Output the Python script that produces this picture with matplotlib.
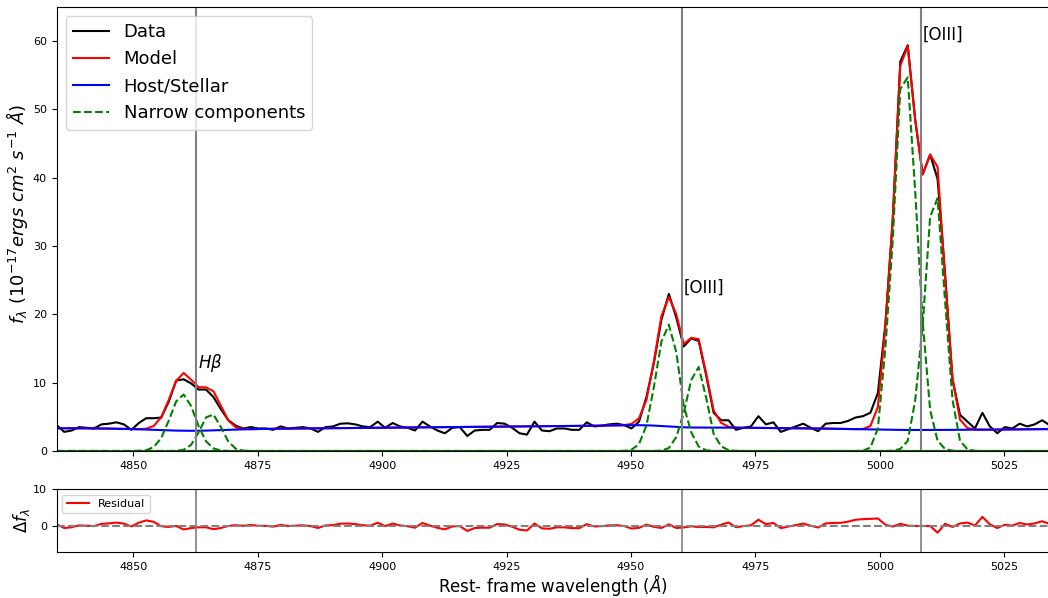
import matplotlib.pyplot as plt
import numpy as np

# rest-frame wavelength grid of the spectrum (Angstrom)
wave_start = 4834.6
wave_step = 1.5

flux = [3.8, 2.8, 3.0, 3.5, 3.4, 3.3, 3.9, 4.0, 4.2, 3.9,
        3.1, 4.1, 4.8, 4.8, 4.9, 7.2, 10.3, 10.5, 9.9, 9.0,
        9.0, 7.9, 6.1, 4.5, 3.7, 3.3, 3.5, 3.3, 3.3, 3.1,
        3.6, 3.3, 3.4, 3.5, 3.3, 2.8, 3.5, 3.6, 4.0, 4.05,
        3.9, 3.6, 3.5, 4.3, 3.4, 4.1, 3.6, 3.4, 3.0, 4.3,
        3.6, 3.0, 2.6, 3.4, 3.5, 2.2, 3.0, 3.1, 3.1, 4.1,
        4.0, 3.4, 2.6, 2.4, 4.3, 3.0, 2.9, 3.3, 3.3, 3.1,
        3.1, 4.2, 3.6, 3.7, 3.9, 4.0, 3.8, 3.3, 4.3, 7.9,
        12.9, 19.2, 23.0, 19.5, 15.3, 16.5, 16.1, 11.1, 5.6, 4.5,
        4.5, 3.1, 3.4, 3.6, 5.1, 3.9, 4.2, 2.8, 3.2, 3.6,
        4.0, 3.4, 2.9, 4.0, 4.1, 4.1, 4.4, 4.9, 5.1, 5.6,
        8.5, 18.5, 34.0, 57.0, 59.4, 48.5, 40.5, 43.4, 39.8, 26.0,
        10.4, 5.3, 4.3, 3.3, 5.6, 3.6, 2.6, 3.5, 3.3, 4.0,
        3.6, 3.9, 4.5, 3.8]

host = [3.33, 3.33, 3.33, 3.32, 3.32, 3.31, 3.30, 3.28, 3.26, 3.24,
        3.21, 3.18, 3.14, 3.10, 3.06, 3.02, 2.99, 2.97, 2.96, 2.97,
        2.99, 3.02, 3.06, 3.10, 3.14, 3.17, 3.20, 3.22, 3.24, 3.26,
        3.27, 3.28, 3.29, 3.30, 3.31, 3.32, 3.33, 3.34, 3.35, 3.36,
        3.37, 3.38, 3.39, 3.40, 3.41, 3.42, 3.43, 3.44, 3.45, 3.46,
        3.47, 3.48, 3.49, 3.50, 3.51, 3.52, 3.53, 3.54, 3.55, 3.56,
        3.57, 3.58, 3.59, 3.60, 3.61, 3.62, 3.63, 3.64, 3.65, 3.66,
        3.67, 3.68, 3.70, 3.72, 3.74, 3.76, 3.77, 3.78, 3.78, 3.76,
        3.72, 3.66, 3.60, 3.53, 3.47, 3.44, 3.43, 3.43, 3.43, 3.43,
        3.42, 3.41, 3.40, 3.40, 3.39, 3.38, 3.37, 3.36, 3.35, 3.34,
        3.33, 3.31, 3.30, 3.28, 3.26, 3.24, 3.22, 3.20, 3.18, 3.16,
        3.14, 3.12, 3.10, 3.09, 3.08, 3.08, 3.08, 3.08, 3.09, 3.09,
        3.10, 3.10, 3.11, 3.12, 3.12, 3.13, 3.14, 3.15, 3.16, 3.17,
        3.18, 3.19, 3.20, 3.21]

# narrow components: first wavelength, then values from there on
hb_blue_start = 4851.1
hb_blue = [0.02, 0.12, 0.57, 1.89, 4.43, 7.25, 8.27, 6.59, 3.66, 1.42, 0.38, 0.07]
hb_red_start = 4858.6
hb_red = [0.02, 0.18, 0.90, 2.71, 4.91, 5.35, 3.49, 1.37, 0.32, 0.05]
o3a_blue_start = 4948.6
o3a_blue = [0.02, 0.19, 1.0, 3.73, 9.4, 16.0, 18.5, 14.45, 6.6, 2.73, 0.65, 0.11, 0.01]
o3a_red_start = 4956.1
o3a_red = [0.06, 0.44, 2.04, 5.6, 10.4, 12.3, 7.8, 2.5, 0.7, 0.12, 0.02]
o3b_blue_start = 4996.6
o3b_blue = [0.05, 0.5, 3.3, 15.0, 31.0, 53.0, 54.7, 38.0, 19.0, 6.0, 1.5, 0.3, 0.05]
o3b_red_start = 5002.6
o3b_red = [0.05, 0.3, 1.5, 7.4, 18.4, 34.3, 37.0, 22.0, 7.5, 1.5, 0.25, 0.03]

line_waves = [4862.68, 4960.30, 5008.24]
x_ticks = [4850, 4875, 4900, 4925, 4950, 4975, 5000, 5025]

wave = wave_start + wave_step * np.arange(len(flux))


def component(start, values):
    comp = np.zeros(len(wave))
    i0 = int(np.argmin(np.abs(wave - start)))
    comp[i0:i0 + len(values)] = values
    return comp


narrow = [
    component(hb_blue_start, hb_blue),
    component(hb_red_start, hb_red),
    component(o3a_blue_start, o3a_blue),
    component(o3a_red_start, o3a_red),
    component(o3b_blue_start, o3b_blue),
    component(o3b_red_start, o3b_red),
]
model = np.array(host) + np.sum(narrow, axis=0)
resid = np.array(flux) - model

fig = plt.figure(figsize=(10.48, 5.98), dpi=100)
ax1 = fig.add_axes([0.0541, 0.2458, 0.9474, 0.7425])
ax2 = fig.add_axes([0.0541, 0.0769, 0.9474, 0.1054])

# main panel
ax1.plot(wave, flux, 'k', label='Data')
ax1.plot(wave, model, 'r', label='Model')
ax1.plot(wave, host, 'b', label='Host/Stellar')
for i, comp in enumerate(narrow):
    ax1.plot(wave, comp, 'g--', label='Narrow components' if i == 0 else None)
ax1.axhline(0, color='darkgreen', lw=2, zorder=2.4)
for lw in line_waves:
    ax1.axvline(lw, color='grey', lw=1.5)

ax1.text(4863.0, 12.9, r'$H\beta$', fontsize=12, ha='left', va='center')
ax1.text(4960.6, 23.9, '[OIII]', fontsize=12, ha='left', va='center')
ax1.text(5008.5, 61.0, '[OIII]', fontsize=12, ha='left', va='center')

ax1.set_xlim(wave[0], wave[-1])
ax1.set_ylim(0, 65)
ax1.set_xticks(x_ticks)
ax1.tick_params(labelsize=8)
ax1.set_ylabel(r'$f_\lambda$ ($10^{-17} ergs\ cm^2\ s^{-1}\ \AA$)', fontsize=13)
ax1.yaxis.set_label_coords(-0.027, 0.534)
ax1.legend(loc='upper left', fontsize=13)

# residual panel
ax2.plot(wave, resid, 'r', label='Residual')
ax2.axhline(0, color='grey', ls='--')
for lw in line_waves:
    ax2.axvline(lw, color='grey', lw=1.2)
ax2.set_xlim(wave[0], wave[-1])
ax2.set_ylim(-7, 10)
ax2.set_yticks([0, 10])
ax2.set_xticks(x_ticks)
ax2.tick_params(labelsize=8)
ax2.set_ylabel(r'$\Delta f_\lambda$', fontsize=12, labelpad=0.5)
ax2.set_xlabel(r'Rest- frame wavelength ($\AA$)', fontsize=12, labelpad=0)
ax2.legend(loc='upper left', fontsize=8)

fig.savefig('out.png', dpi=100)
